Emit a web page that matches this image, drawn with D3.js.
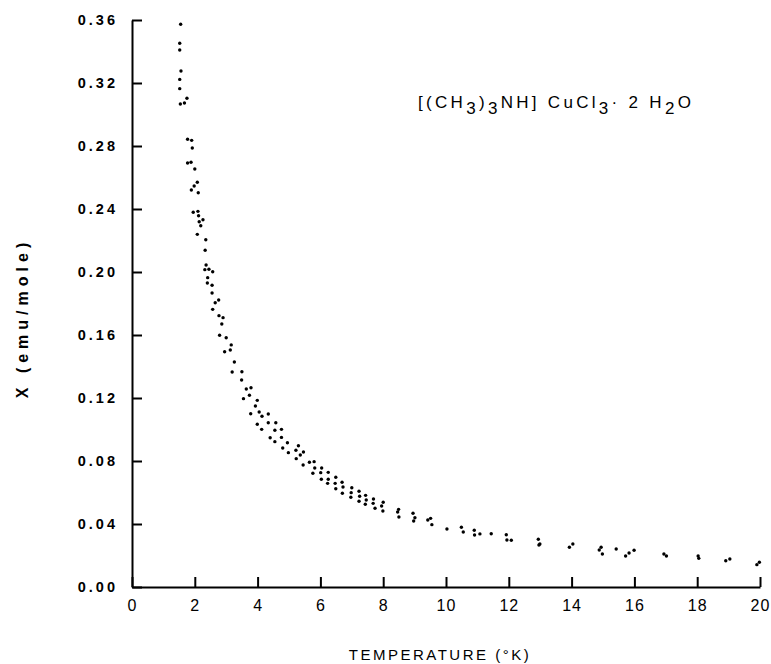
<!DOCTYPE html>
<html>
<head>
<meta charset="utf-8">
<script src="https://cdn.jsdelivr.net/npm/d3@7"></script>
<style>
  body { margin: 0; background: #fff; }
  svg text { font-family: "Liberation Sans", Arial, sans-serif; fill: #000; }
</style>
</head>
<body>
<div id="chart"></div>
<script>
// temperature (K) of each measured point
const temps = [
  1.55, 1.52, 1.52, 1.56, 1.52, 1.52, 1.75, 1.54, 1.67, 1.77,
  1.90, 1.92, 1.77, 1.88, 2.00, 2.08, 1.98, 1.89, 2.11, 1.95,
  2.10, 2.12, 2.14, 2.26, 2.19, 2.08, 2.35, 2.33, 2.36, 2.32,
  2.45, 2.57, 2.41, 2.40, 2.55, 2.55, 2.76, 2.65, 2.57, 2.77,
  2.90, 2.86, 2.79, 3.00, 3.16, 3.13, 2.95, 3.26, 3.19, 3.50,
  3.49, 3.64, 3.79, 3.55, 3.74, 3.99, 3.93, 3.78, 4.05, 4.14,
  4.34, 3.99, 4.34, 4.58, 4.13, 4.55, 4.76, 4.40, 4.76, 4.55,
  4.95, 4.80, 4.98, 5.30, 5.22, 5.46, 5.36, 5.23, 5.65, 5.80,
  5.45, 5.82, 6.04, 5.76, 6.01, 6.25, 6.03, 6.25, 6.49, 6.23,
  6.47, 6.69, 6.49, 6.72, 7.00, 6.70, 6.98, 6.97, 7.23, 7.25,
  7.23, 7.44, 7.46, 7.43, 7.69, 7.68, 7.74, 8.00, 7.95, 7.99,
  8.49, 8.46, 8.50, 8.95, 9.01, 8.97, 9.42, 9.51, 9.55, 10.03,
  10.49, 10.55, 10.90, 10.91, 11.08, 11.44, 11.92, 11.94, 12.08, 12.94,
  12.96, 12.99, 13.93, 14.04, 14.88, 14.94, 14.98, 15.42, 15.72, 15.83,
  15.99, 16.94, 17.02, 18.03, 18.05, 18.91, 19.04, 19.90, 19.98
];
// susceptibility chi (emu/mole), same order as temps
const chis = [
  0.3573, 0.3452, 0.3410, 0.3276, 0.3223, 0.3164, 0.3103, 0.3067, 0.3073, 0.2843,
  0.2836, 0.2787, 0.2692, 0.2697, 0.2654, 0.2570, 0.2546, 0.2521, 0.2503, 0.2379,
  0.2385, 0.2357, 0.2319, 0.2332, 0.2294, 0.2239, 0.2205, 0.2138, 0.2044, 0.2015,
  0.2017, 0.2002, 0.1964, 0.1930, 0.1916, 0.1867, 0.1822, 0.1805, 0.1763, 0.1723,
  0.1710, 0.1670, 0.1598, 0.1583, 0.1537, 0.1505, 0.1494, 0.1429, 0.1365, 0.1367,
  0.1314, 0.1257, 0.1265, 0.1196, 0.1217, 0.1185, 0.1149, 0.1100, 0.1111, 0.1084,
  0.1098, 0.1033, 0.1043, 0.1043, 0.1001, 0.0995, 0.1001, 0.0948, 0.0950, 0.0923,
  0.0916, 0.0883, 0.0853, 0.0897, 0.0868, 0.0857, 0.0838, 0.0815, 0.0792, 0.0796,
  0.0775, 0.0756, 0.0756, 0.0722, 0.0726, 0.0728, 0.0684, 0.0684, 0.0697, 0.0658,
  0.0658, 0.0665, 0.0624, 0.0635, 0.0630, 0.0595, 0.0599, 0.0570, 0.0608, 0.0576,
  0.0544, 0.0582, 0.0552, 0.0525, 0.0559, 0.0531, 0.0500, 0.0538, 0.0514, 0.0483,
  0.0493, 0.0476, 0.0444, 0.0468, 0.0440, 0.0419, 0.0425, 0.0436, 0.0396, 0.0368,
  0.0379, 0.0349, 0.0360, 0.0330, 0.0337, 0.0338, 0.0332, 0.0298, 0.0297, 0.0303,
  0.0267, 0.0273, 0.0252, 0.0273, 0.0235, 0.0252, 0.0210, 0.0241, 0.0197, 0.0216,
  0.0233, 0.0210, 0.0197, 0.0197, 0.0182, 0.0167, 0.0178, 0.0142, 0.0157
];
const xTicks = [0, 2, 4, 6, 8, 10, 12, 14, 16, 18, 20];
const yTicks = [0, 0.04, 0.08, 0.12, 0.16, 0.20, 0.24, 0.28, 0.32, 0.36];

let width = 771, height = 664;
let margin = {top: 20, right: 11, bottom: 77, left: 132};

let points = temps.map((t, i) => ({t: t, chi: chis[i]}));

let svg = d3.select("#chart")
    .append("svg")
    .attr("width", width)
    .attr("height", height);

let x = d3.scaleLinear().domain([0, 20]).range([margin.left, width - margin.right]);
let y = d3.scaleLinear().domain([0, 0.36]).range([height - margin.bottom, margin.top]);

// x axis, ticks pointing up
let xAxis = svg.append("g")
    .attr("transform", `translate(0,${y(0)})`)
    .call(d3.axisBottom(x).tickValues(xTicks).tickFormat(d3.format("d"))
        .tickSizeInner(-10).tickSizeOuter(0).tickPadding(13));

// y axis, ticks pointing right
let yAxis = svg.append("g")
    .attr("transform", `translate(${x(0)},0)`)
    .call(d3.axisLeft(y).tickValues(yTicks).tickFormat(d3.format(".2f"))
        .tickSizeInner(-10).tickSizeOuter(0).tickPadding(14));

svg.selectAll(".domain, .tick line")
    .attr("stroke", "#000")
    .attr("stroke-width", 2);

xAxis.selectAll("text")
    .style("font-size", "16px")
    .style("letter-spacing", "1px");
yAxis.selectAll("text")
    .style("font-size", "14.5px")
    .style("font-weight", "bold")
    .style("letter-spacing", "3px");

// data points
svg.append("g")
    .selectAll("circle")
    .data(points)
    .enter().append("circle")
    .attr("cx", d => x(d.t))
    .attr("cy", d => y(d.chi))
    .attr("r", 1.7)
    .attr("fill", "#000");

// axis titles
svg.append("text")
    .attr("x", 440)
    .attr("y", 660)
    .attr("text-anchor", "middle")
    .style("font-size", "15px")
    .style("letter-spacing", "2.5px")
    .text("TEMPERATURE (°K)");

svg.append("text")
    .attr("transform", "translate(28,318) rotate(-90)")
    .attr("text-anchor", "middle")
    .style("font-size", "16px")
    .style("font-weight", "bold")
    .style("letter-spacing", "5px")
    .text("X (emu/mole)");

// compound formula
let formula = svg.append("text")
    .attr("x", 418)
    .attr("y", 108)
    .style("font-size", "17px")
    .style("letter-spacing", "3.3px");
const parts = [["[(CH", 0], ["3", 6], [")", -6], ["3", 6], ["NH] CuCl", -6], ["3", 6], ["· 2 H", -6], ["2", 6], ["O", -6]];
parts.forEach(p => {
    formula.append("tspan").attr("dy", p[1]).text(p[0]);
});
</script>
</body>
</html>
